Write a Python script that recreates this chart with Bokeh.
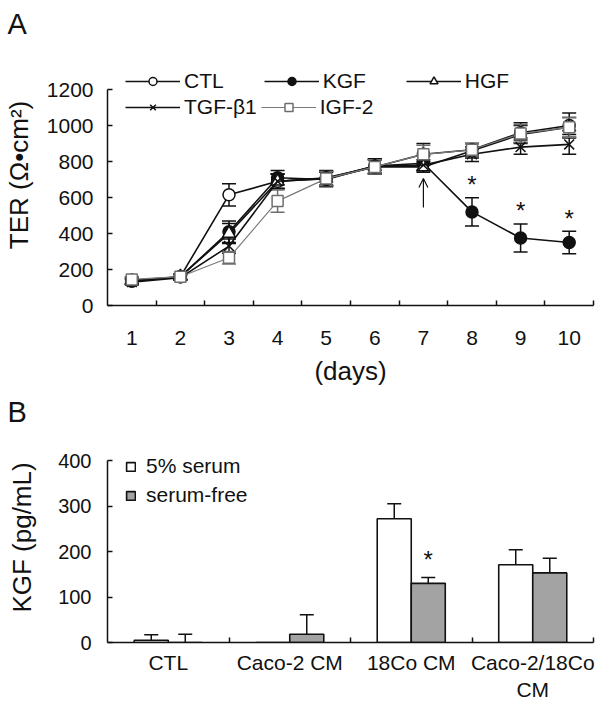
from bokeh.plotting import figure
from bokeh.models import (ColumnDataSource, Whisker, TeeHead, Legend, LegendItem,
                          FixedTicker, Arrow, OpenHead, Range1d)
from bokeh.layouts import column
from bokeh.embed import file_html
from bokeh.resources import INLINE
from bokeh.core.properties import value

FONT = "Liberation Sans"

# ---------------- Panel A data ----------------
days = [1, 2, 3, 4, 5, 6, 7, 8, 9, 10]
ctl = [140, 160, 615, 690, 710, 770, 840, 865, 960, 1000]
ctl_err = [20, 15, 62, 40, 40, 40, 60, 35, 55, 70]
kgf = [135, 160, 410, 710, 700, 775, 790, 520, 375, 350]
kgf_err = [15, 15, 60, 40, 40, 40, 40, 78, 78, 62]
hgf = [135, 160, 400, 690, 705, 770, 770, 860, 950, 990]
hgf_err = [15, 15, 55, 40, 40, 40, 30, 40, 50, 55]
tgf = [130, 155, 330, 690, 705, 775, 780, 840, 880, 895]
tgf_err = [15, 15, 40, 40, 40, 40, 30, 40, 40, 55]
igf = [145, 160, 265, 580, 705, 770, 840, 865, 955, 990]
igf_err = [15, 15, 35, 62, 40, 40, 50, 35, 50, 55]
kgf_sig_days = [8, 9, 10]
arrow_day = 7
arrow_from = 545
arrow_to = 705
yticks_A = [0, 200, 400, 600, 800, 1000, 1200]

# ---------------- Panel B data ----------------
categories = ["CTL", "Caco-2 CM", "18Co CM", "Caco-2/18Co\nCM"]
serum5 = [5, 0, 272, 171]
serum5_err = [12, 0, 33, 33]
serumfree = [0, 18, 130, 153]
serumfree_err = [18, 43, 13, 32]
sig_B = [2]  # 18Co CM, serum-free bar
yticks_B = [0, 100, 200, 300, 400]

BAR_W = 0.28
BAR_OFF = 0.14

# frame geometry (the frame extends above the axis top so that legends fit)
A_TOP, A_FRAME_H, A_BOTTOM = 40, 261, 80
A_YMAX = 1200 * A_FRAME_H / 216.0
B_TOP, B_FRAME_H, B_BOTTOM = 40, 210, 54
B_YMAX = 400 * B_FRAME_H / 182.0


def style_axes(p, tick_size, label_size):
    p.xgrid.visible = False
    p.ygrid.visible = False
    p.outline_line_color = None
    for ax in (p.xaxis[0], p.yaxis[0]):
        ax.axis_line_color = "#111111"
        ax.axis_line_width = 1.5
        ax.major_tick_line_color = "#111111"
        ax.minor_tick_line_color = "#111111"
        ax.major_tick_line_width = 1.5
        ax.minor_tick_line_width = 1.5
        ax.major_label_text_font = FONT
        ax.major_label_text_font_size = tick_size
        ax.major_label_text_color = "#111111"
        ax.axis_label_text_font = FONT
        ax.axis_label_text_font_size = label_size
        ax.axis_label_text_font_style = "normal"
        ax.axis_label_text_color = "#111111"
    p.xaxis.major_tick_in = 0
    p.xaxis.major_tick_out = 0
    p.xaxis.minor_tick_in = 5
    p.xaxis.minor_tick_out = 0
    p.yaxis.major_tick_in = 5
    p.yaxis.major_tick_out = 0
    p.yaxis.minor_tick_in = 0
    p.yaxis.minor_tick_out = 0


def style_title(p):
    p.title.align = "left"
    p.title.offset = -100
    p.title.text_font = FONT
    p.title.text_font_size = "29px"
    p.title.text_font_style = "normal"
    p.title.text_color = "#111111"


# ================= Panel A =================
pA = figure(title="A", frame_width=486, frame_height=A_FRAME_H,
            min_border_left=100, min_border_right=12,
            min_border_top=A_TOP, min_border_bottom=A_BOTTOM,
            x_range=Range1d(0.5, 10.5), y_range=Range1d(0, A_YMAX),
            output_backend="svg", toolbar_location=None)
style_title(pA)
style_axes(pA, "21px", "26px")
pA.xaxis.ticker = FixedTicker(ticks=days, minor_ticks=[d + 0.5 for d in days])
pA.yaxis.ticker = FixedTicker(ticks=yticks_A)
pA.yaxis.bounds = (0, 1200)
pA.xaxis.axis_label = "(days)"
pA.yaxis.axis_label = "TER (\u03a9\u2022cm\u00b2)"
pA.xaxis.major_label_standoff = 25
pA.xaxis.axis_label_standoff = 8
pA.yaxis.major_label_standoff = 14
pA.yaxis.axis_label_standoff = 10

series = [
    ("CTL", ctl, ctl_err, "circle", "white", "#111111", "#111111", 12, 1.6),
    ("KGF", kgf, kgf_err, "circle", "#111111", "#111111", "#111111", 12, 1.6),
    ("HGF", hgf, hgf_err, "triangle", "white", "#111111", "#111111", 13, 1.6),
    ("TGF-\u03b21", tgf, tgf_err, "x", "white", "#111111", "#111111", 14, 1.6),
    ("IGF-2", igf, igf_err, "square", "white", "#6e6e6e", "#7a7a7a", 11, 1.2),
]

items = {}
for name, vals, errs, marker, fill, mline, lcol, msize, lw in series:
    src = ColumnDataSource(dict(
        x=days, y=vals,
        up=[v + e for v, e in zip(vals, errs)],
        lo=[v - e for v, e in zip(vals, errs)]))
    wh = Whisker(source=src, base="x", upper="up", lower="lo",
                 line_color=mline, line_width=1.5,
                 upper_head=TeeHead(size=14, line_color=mline, line_width=1.5),
                 lower_head=TeeHead(size=14, line_color=mline, line_width=1.5))
    pA.add_layout(wh)
    rl = pA.line("x", "y", source=src, line_color=lcol, line_width=lw)
    rs = pA.scatter("x", "y", source=src, marker=marker, size=msize,
                    fill_color=fill, line_color=mline, line_width=1.5)
    items[name] = LegendItem(label=name, renderers=[rl, rs])

# significance stars on KGF
star_src = ColumnDataSource(dict(
    x=kgf_sig_days,
    y=[kgf[days.index(d)] + kgf_err[days.index(d)] for d in kgf_sig_days],
    t=["*"] * len(kgf_sig_days)))
pA.text("x", "y", text="t", source=star_src, text_align="center",
        text_baseline="middle", y_offset=-13, text_font=value(FONT),
        text_font_size="24px", text_color="#111111")

# treatment arrow at day 7
pA.add_layout(Arrow(end=OpenHead(size=9, line_width=1.2, line_color="#111111"),
                    x_start=arrow_day, y_start=arrow_from,
                    x_end=arrow_day, y_end=arrow_to,
                    line_width=1.2, line_color="#111111"))

leg_common = dict(orientation="horizontal", padding=0, margin=0,
                  glyph_width=55, glyph_height=20, label_height=20,
                  label_standoff=4, label_text_font=FONT,
                  label_text_font_size="21px", label_text_color="#111111",
                  background_fill_alpha=0, border_line_alpha=0)
leg1 = Legend(items=[items["CTL"], items["KGF"], items["HGF"]],
              location=(18, 212), spacing=40, **leg_common)
leg2 = Legend(items=[items["TGF-\u03b21"], items["IGF-2"]],
              location=(18, 186), spacing=4, **leg_common)
pA.add_layout(leg1)
pA.add_layout(leg2)

# ================= Panel B =================
pB = figure(title="B", frame_width=486, frame_height=B_FRAME_H,
            min_border_left=100, min_border_right=12,
            min_border_top=B_TOP, min_border_bottom=B_BOTTOM,
            x_range=Range1d(0.5, 4.5), y_range=Range1d(0, B_YMAX),
            output_backend="svg", toolbar_location=None)
style_title(pB)
style_axes(pB, "20px", "26px")
pos = [i + 1 for i in range(len(categories))]
pB.xaxis.ticker = FixedTicker(ticks=pos, minor_ticks=[p + 0.5 for p in pos])
pB.xaxis.major_label_overrides = {p: c for p, c in zip(pos, categories)}
pB.xaxis.major_label_text_font_size = "21px"
pB.yaxis.ticker = FixedTicker(ticks=yticks_B)
pB.yaxis.bounds = (0, 400)
pB.yaxis.axis_label = "KGF (pg/mL)"
pB.xaxis.major_label_standoff = 8
pB.yaxis.major_label_standoff = 16
pB.yaxis.axis_label_standoff = 18

x_white = [p - BAR_OFF for p in pos]
x_grey = [p + BAR_OFF for p in pos]
vb1 = pB.vbar(x=x_white, top=serum5, width=BAR_W, bottom=0,
              fill_color="white", line_color="#111111", line_width=1.6)
vb2 = pB.vbar(x=x_grey, top=serumfree, width=BAR_W, bottom=0,
              fill_color="#a3a3a3", line_color="#111111", line_width=1.6)

for xs, vals, errs in ((x_white, serum5, serum5_err), (x_grey, serumfree, serumfree_err)):
    keep = [i for i, e in enumerate(errs) if e > 0]
    src = ColumnDataSource(dict(
        x=[xs[i] for i in keep],
        lo=[vals[i] for i in keep],
        up=[vals[i] + errs[i] for i in keep]))
    pB.add_layout(Whisker(source=src, base="x", upper="up", lower="lo",
                          line_color="#111111", line_width=1.5,
                          upper_head=TeeHead(size=14, line_color="#111111", line_width=1.5),
                          lower_head=None))

sB = ColumnDataSource(dict(
    x=[x_grey[i] for i in sig_B],
    y=[serumfree[i] + serumfree_err[i] for i in sig_B],
    t=["*"] * len(sig_B)))
pB.text("x", "y", text="t", source=sB, text_align="center", text_baseline="middle",
        y_offset=-18, text_font=value(FONT), text_font_size="24px", text_color="#111111")

legB = Legend(items=[LegendItem(label="5% serum", renderers=[vb1]),
                     LegendItem(label="serum-free", renderers=[vb2])],
              location=(18, 135), orientation="vertical", padding=0, margin=0,
              glyph_width=11, glyph_height=11, label_height=20, spacing=5,
              label_standoff=10, label_text_font=FONT, label_text_font_size="21px",
              label_text_color="#111111",
              background_fill_alpha=0, border_line_alpha=0)
pB.add_layout(legB)

layout = column(pA, pB, spacing=0)
open("out.html", "w").write(file_html(layout, INLINE))
